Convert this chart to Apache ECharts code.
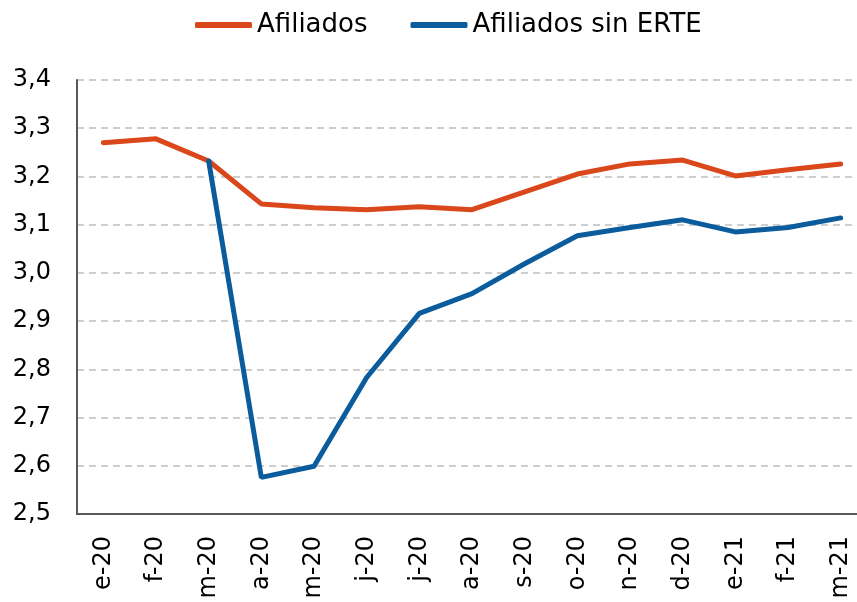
<!DOCTYPE html>
<html>
<head>
<meta charset="utf-8">
<script src="https://cdn.jsdelivr.net/npm/echarts@6/dist/echarts.min.js"></script>
<style>
html,body{margin:0;padding:0;background:#fff;overflow:hidden;width:857px;height:602px;}
#chart{width:870px;height:602px;}
</style>
</head>
<body>
<div id="chart"></div>
<script>
// datos del gráfico
const meses = ["e-20","f-20","m-20","a-20","m-20","j-20","j-20","a-20","s-20","o-20","n-20","d-20","e-21","f-21","m-21"];
const afiliados = [3.270,3.278,3.232,3.143,3.135,3.131,3.137,3.131,3.168,3.205,3.226,3.234,3.201,3.214,3.226];
const afiliadosSinErte = [null,null,3.232,2.576,2.599,2.783,2.916,2.957,3.019,3.077,3.094,3.110,3.085,3.094,3.114];
const nombres = ["Afiliados","Afiliados sin ERTE"];
const colores = ["#D9471B","#0A5C9D"];
const fuente = "DejaVu Sans";

// el área del gráfico sigue más allá del borde derecho, por eso el div es más ancho que la ventana
let myChart = echarts.init(document.getElementById('chart'));
let option = {
    animation: false,
    backgroundColor: '#fff',
    legend: {
        top: 7,
        left: 190,
        icon: 'roundRect',
        itemWidth: 57,
        itemHeight: 6,
        itemGap: 43,
        textStyle: {
            fontFamily: fuente,
            fontSize: 26,
            color: '#000'
        },
        data: nombres
    },
    grid: {
        left: 77,
        top: 80,
        right: 3,
        height: 434
    },
    xAxis: {
        type: 'category',
        data: meses,
        boundaryGap: true,
        axisLine: {lineStyle: {color: '#595959', width: 2}},
        axisTick: {show: false},
        axisLabel: {
            interval: 0,
            rotate: 90,
            margin: 22,
            fontFamily: fuente,
            fontSize: 24,
            color: '#000'
        }
    },
    yAxis: {
        type: 'value',
        min: 2.5,
        max: 3.4,
        interval: 0.1,
        axisLine: {show: true, lineStyle: {color: '#595959', width: 2}},
        axisTick: {show: false},
        splitLine: {lineStyle: {color: '#BFBFBF', width: 1.5, type: [7, 5]}},
        axisLabel: {
            margin: 26,
            fontFamily: fuente,
            fontSize: 24,
            color: '#000',
            formatter: function (v) {
                return v.toFixed(1).replace('.', ',');
            }
        }
    },
    series: [
        {
            name: nombres[0],
            type: 'line',
            data: afiliados,
            symbol: 'none',
            color: colores[0],
            lineStyle: {width: 5, color: colores[0], cap: 'round'}
        },
        {
            name: nombres[1],
            type: 'line',
            data: afiliadosSinErte,
            symbol: 'none',
            color: colores[1],
            lineStyle: {width: 5, color: colores[1], cap: 'round'}
        }
    ]
};
myChart.setOption(option);
</script>
</body>
</html>
